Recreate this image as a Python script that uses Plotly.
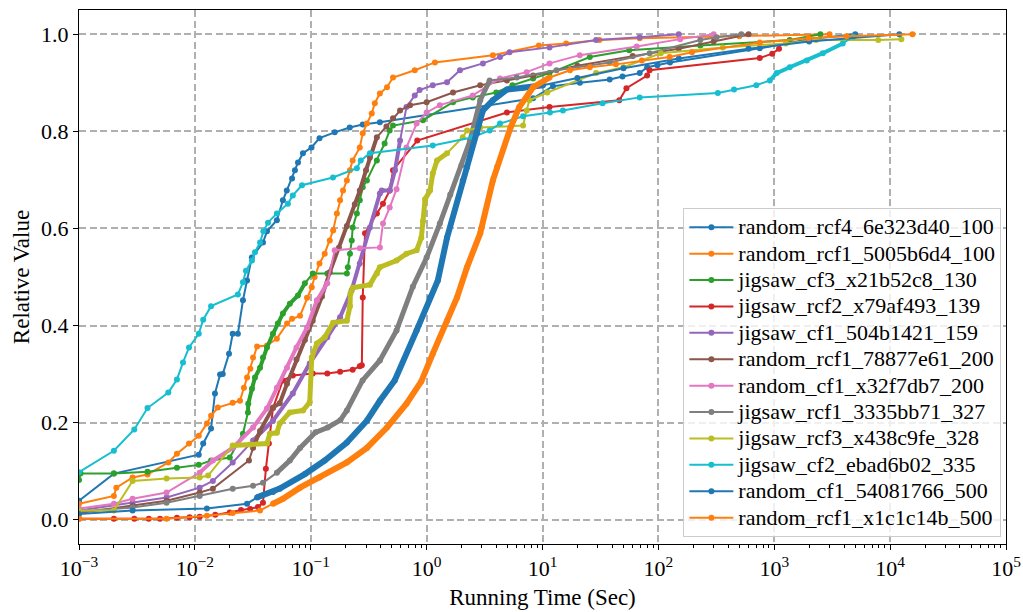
import plotly.graph_objects as go

# ---------------- data ----------------
names = [
    "random_rcf4_6e323d40_100", "random_rcf1_5005b6d4_100", "jigsaw_cf3_x21b52c8_130",
    "jigsaw_rcf2_x79af493_139", "jigsaw_cf1_504b1421_159", "random_rcf1_78877e61_200",
    "random_cf1_x32f7db7_200", "jigsaw_rcf1_3335bb71_327", "jigsaw_rcf3_x438c9fe_328",
    "jigsaw_cf2_ebad6b02_335", "random_cf1_54081766_500", "random_rcf1_x1c1c14b_500",
]
colors = ["#1f77b4", "#ff7f0e", "#2ca02c", "#d62728", "#9467bd", "#8c564b",
          "#e377c2", "#7f7f7f", "#bcbd22", "#17becf", "#1f77b4", "#ff7f0e"]

x_s1 = [0.001, 0.002, 0.0108, 0.0118, 0.0138, 0.0149, 0.0165, 0.0174, 0.0197, 0.0212, 0.0235, 0.026,
        0.0282, 0.031, 0.0387, 0.0419, 0.051, 0.0575, 0.0621, 0.069, 0.073, 0.0776, 0.0856, 0.1015,
        0.119, 0.161, 0.217, 0.281, 0.395, 8.3, 12.3, 21, 38, 49, 69, 80, 98, 126, 750, 2000, 5000]
y_s1 = [0.039, 0.095, 0.134, 0.157, 0.188, 0.26, 0.299, 0.30, 0.342, 0.383, 0.383, 0.452,
        0.493, 0.54, 0.571, 0.594, 0.617, 0.658, 0.678, 0.703, 0.72, 0.736, 0.755, 0.767,
        0.786, 0.798, 0.808, 0.814, 0.819, 0.868, 0.893, 0.90, 0.907, 0.913, 0.92, 0.932, 0.936, 0.942, 0.971, 0.99, 1.0]

x_s2 = [0.001, 0.002, 0.0021, 0.0029, 0.0039, 0.0059, 0.007, 0.0089, 0.0108, 0.0127, 0.0138, 0.0158,
        0.0212, 0.0245, 0.0265, 0.0282, 0.0301, 0.0318, 0.0344, 0.0419, 0.051, 0.0624, 0.069, 0.0808,
        0.0929, 0.102, 0.108, 0.119, 0.132, 0.146, 0.156, 0.168, 0.179, 0.19, 0.205, 0.218, 0.23,
        0.265, 0.281, 0.305, 0.336, 0.357, 0.395, 0.455, 0.513, 0.79, 1.18, 3.73, 9.3, 16, 31, 69, 500, 3000]
y_s2 = [0.033, 0.049, 0.066, 0.087, 0.093, 0.118, 0.136, 0.157, 0.173, 0.198, 0.214, 0.231,
        0.241, 0.245, 0.272, 0.293, 0.311, 0.334, 0.357, 0.359, 0.373, 0.404, 0.414, 0.42,
        0.457, 0.479, 0.5, 0.528, 0.548, 0.575, 0.596, 0.631, 0.658, 0.678, 0.699, 0.72, 0.74,
        0.767, 0.796, 0.816, 0.837, 0.858, 0.878, 0.891, 0.911, 0.926, 0.942, 0.957, 0.977, 0.981, 0.988, 0.992, 0.996, 1.0]

x_s3 = [0.001, 0.00103, 0.002, 0.0039, 0.007, 0.0108, 0.0138, 0.02, 0.026, 0.0287, 0.0289, 0.0311,
        0.033, 0.0365, 0.0387, 0.0419, 0.0472, 0.052, 0.0575, 0.066, 0.0775, 0.089, 0.104, 0.139,
        0.205, 0.209, 0.218, 0.226, 0.23, 0.25, 0.265, 0.281, 0.305, 0.372, 0.434, 0.48, 0.513,
        0.93, 1.69, 2.5, 3.99, 5.5, 8.3, 11.5, 25.6, 56, 230, 1360, 2500]
y_s3 = [0.082, 0.095, 0.095, 0.099, 0.107, 0.113, 0.122, 0.128, 0.177, 0.221, 0.239, 0.27,
        0.293, 0.313, 0.334, 0.355, 0.383, 0.404, 0.425, 0.445, 0.462, 0.487, 0.507, 0.507,
        0.507, 0.52, 0.548, 0.575, 0.602, 0.631, 0.658, 0.685, 0.699, 0.74, 0.775, 0.802, 0.812,
        0.823, 0.86, 0.87, 0.88, 0.895, 0.909, 0.92, 0.953, 0.967, 0.977, 0.988, 1.0]

x_s4 = [0.001, 0.002, 0.003, 0.004, 0.005, 0.007, 0.009, 0.011, 0.015, 0.02, 0.025, 0.03, 0.035,
        0.0387, 0.041, 0.0435, 0.0472, 0.0575, 0.07, 0.104, 0.139, 0.179, 0.23, 0.265, 0.276,
        0.281, 0.294, 0.372, 0.42, 0.48, 0.513, 0.83, 4.93, 11.5, 46, 53, 80, 84, 750, 960, 1100]
y_s4 = [0.002, 0.002, 0.002, 0.002, 0.002, 0.004, 0.005, 0.006, 0.01, 0.015, 0.02, 0.022, 0.026,
        0.035, 0.105, 0.157, 0.23, 0.287, 0.297, 0.301, 0.301, 0.305, 0.309, 0.316, 0.318,
        0.458, 0.59, 0.631, 0.651, 0.678, 0.72, 0.781, 0.839, 0.85, 0.864, 0.889, 0.915, 0.926, 0.951, 0.96, 0.97]

x_s5 = [0.001, 0.0029, 0.0057, 0.011, 0.0143, 0.0212, 0.0318, 0.0472, 0.07, 0.098, 0.139, 0.179,
        0.225, 0.265, 0.324, 0.395, 0.41, 0.48, 0.534, 0.59, 0.67, 0.79, 0.87, 1.13, 1.5, 1.94,
        3.06, 4.3, 5.2, 11.5, 29, 69, 150]
y_s5 = [0.019, 0.035, 0.046, 0.066, 0.08, 0.118, 0.163, 0.204, 0.26, 0.322, 0.376, 0.417,
        0.472, 0.528, 0.602, 0.672, 0.678, 0.678, 0.72, 0.781, 0.85, 0.874, 0.885, 0.895, 0.901, 0.926,
        0.94, 0.953, 0.963, 0.973, 0.988, 0.994, 1.0]

x_s6 = [0.001, 0.0029, 0.0057, 0.011, 0.0143, 0.0293, 0.0318, 0.0365, 0.0472, 0.054, 0.0624, 0.0753,
        0.089, 0.104, 0.125, 0.146, 0.175, 0.205, 0.24, 0.265, 0.3, 0.324, 0.372, 0.45, 0.513,
        0.59, 0.72, 1.0, 1.69, 2.9, 4.93, 8.3, 20, 60, 150, 300, 600]
y_s6 = [0.014, 0.029, 0.039, 0.056, 0.064, 0.122, 0.148, 0.183, 0.231, 0.24, 0.28, 0.33,
        0.37, 0.41, 0.46, 0.51, 0.56, 0.605, 0.65, 0.678, 0.72, 0.746, 0.788, 0.81, 0.827,
        0.843, 0.854, 0.86, 0.88, 0.895, 0.905, 0.915, 0.935, 0.955, 0.97, 0.985, 1.0]

x_s7 = [0.001, 0.002, 0.0029, 0.0057, 0.011, 0.0143, 0.0212, 0.0318, 0.0419, 0.051, 0.0624, 0.0753,
        0.093, 0.113, 0.139, 0.161, 0.265, 0.395, 0.42, 0.48, 0.55, 0.67, 0.82, 1.0, 1.3, 2.5,
        4.3, 7.3, 11.5, 21, 65, 154, 300]
y_s7 = [0.023, 0.033, 0.043, 0.056, 0.097, 0.122, 0.148, 0.19, 0.229, 0.272, 0.313, 0.355,
        0.396, 0.452, 0.487, 0.555, 0.559, 0.561, 0.61, 0.643, 0.681, 0.767, 0.816, 0.839, 0.854, 0.874,
        0.909, 0.922, 0.94, 0.957, 0.975, 0.99, 1.0]

x_s8 = [0.001, 0.0029, 0.0057, 0.011, 0.0212, 0.0318, 0.0387, 0.051, 0.066, 0.0808, 0.11, 0.14,
        0.18, 0.205, 0.28, 0.395, 0.55, 0.76, 1.0, 1.3, 1.6, 2.0, 2.36, 2.9, 3.5, 6, 13.2, 38, 84,
        230, 318, 520]
y_s8 = [0.017, 0.025, 0.035, 0.049, 0.064, 0.07, 0.076, 0.097, 0.122, 0.148, 0.18, 0.19,
        0.205, 0.225, 0.287, 0.328, 0.39, 0.48, 0.54, 0.61, 0.67, 0.73, 0.78, 0.864, 0.905, 0.911, 0.926, 0.942, 0.961,
        0.988, 0.994, 1.0]

x_s9 = [0.001, 0.002, 0.0029, 0.0057, 0.011, 0.013, 0.0212, 0.03, 0.0419, 0.0444, 0.051, 0.054,
        0.066, 0.0856, 0.098, 0.102, 0.113, 0.132, 0.156, 0.205, 0.218, 0.22, 0.23, 0.324, 0.372,
        0.395, 0.55, 0.67, 0.82, 0.9, 0.93, 0.97, 1.07, 1.13, 1.23, 1.5, 2.05, 2.23, 2.9, 6.8, 7.3,
        7.7, 11, 29, 50, 105, 360, 1260, 2300, 7900, 12500]
y_s9 = [0.019, 0.019, 0.08, 0.085, 0.087, 0.091, 0.153, 0.155, 0.157, 0.177, 0.179, 0.198,
        0.221, 0.225, 0.242, 0.334, 0.363, 0.376, 0.406, 0.41, 0.44, 0.466, 0.478, 0.484, 0.507,
        0.52, 0.534, 0.548, 0.555, 0.581, 0.615, 0.66, 0.678, 0.713, 0.74, 0.755, 0.788, 0.802, 0.808, 0.812, 0.843,
        0.864, 0.88, 0.92, 0.932, 0.961, 0.973, 0.981, 0.988, 0.988, 0.99]

x_s10 = [0.001, 0.002, 0.003, 0.0039, 0.0059, 0.007, 0.0079, 0.0089, 0.0108, 0.0118, 0.0138, 0.0235,
         0.026, 0.0276, 0.0311, 0.033, 0.0365, 0.039, 0.0428, 0.051, 0.0635, 0.07, 0.084, 0.1555,
         0.25, 0.27, 0.324, 1.13, 2.5, 3.5, 4.3, 6.8, 11.6, 15, 33, 69, 326, 450, 700, 916, 1050,
         1360, 1910, 2625, 3900, 4800]
y_s10 = [0.098, 0.142, 0.186, 0.23, 0.262, 0.289, 0.324, 0.355, 0.383, 0.412, 0.44, 0.464,
         0.489, 0.513, 0.534, 0.551, 0.571, 0.594, 0.612, 0.631, 0.651, 0.668, 0.689, 0.705,
         0.724, 0.74, 0.755, 0.771, 0.788, 0.802, 0.816, 0.831, 0.839, 0.843, 0.858, 0.87, 0.879, 0.886, 0.895, 0.905, 0.92,
         0.932, 0.946, 0.961, 0.981, 0.995]

x_s11 = [0.001, 0.0029, 0.0127, 0.0282, 0.0344, 0.0472, 0.054, 0.089, 0.132, 0.205, 0.305, 0.395,
         0.53, 0.82, 1.07, 1.25, 1.5, 2.05, 2.23, 2.72, 3.06, 3.73, 4.93, 6.77, 10.1, 20, 50, 150,
         600, 2000, 12000]
y_s11 = [0.012, 0.019, 0.023, 0.033, 0.046, 0.057, 0.064, 0.094, 0.122, 0.159, 0.204, 0.245,
         0.287, 0.39, 0.458, 0.493, 0.581, 0.699, 0.726, 0.796, 0.843, 0.864, 0.886, 0.89, 0.895, 0.91, 0.93, 0.95,
         0.97, 0.985, 1.0]

x_s12 = [0.001, 0.0057, 0.0127, 0.0212, 0.0365, 0.0472, 0.0575, 0.0808, 0.119, 0.205, 0.305, 0.455,
         0.67, 0.9, 1.13, 1.5, 1.83, 2.23, 2.9, 3.73, 4.05, 5.3, 6.3, 8.3, 11.5, 17.3, 25.6, 43,
         72, 125, 195, 750, 1980, 4200, 15600]
y_s12 = [0.002, 0.002, 0.008, 0.014, 0.019, 0.033, 0.043, 0.066, 0.087, 0.118, 0.148, 0.19,
         0.239, 0.285, 0.342, 0.41, 0.458, 0.52, 0.59, 0.699, 0.726, 0.808, 0.85, 0.891, 0.911, 0.926, 0.932, 0.938,
         0.946, 0.953, 0.963, 0.983, 0.992, 0.996, 1.0]

series_x = [x_s1, x_s2, x_s3, x_s4, x_s5, x_s6, x_s7, x_s8, x_s9, x_s10, x_s11, x_s12]
series_y = [y_s1, y_s2, y_s3, y_s4, y_s5, y_s6, y_s7, y_s8, y_s9, y_s10, y_s11, y_s12]

xtick_exp = [-3, -2, -1, 0, 1, 2, 3, 4, 5]

# ---------------- styling ----------------
# x-interval where the original curve is so dense that its markers form a thick band
dense = {2: (0.028, 0.1, 4), 4: (0.03, 0.6, 4), 5: (0.03, 0.4, 4), 6: (0.01, 0.16, 4),
         7: (0.04, 3.5, 5), 8: (0.02, 1.5, 5), 9: (900, 4500, 4),
         10: (0.03, 10.5, 6), 11: (0.04, 12, 6)}

FONT = "Liberation Serif, Times New Roman, serif"
LEGEND_TEXT_PX = 22
fig = go.Figure()
for i, (nm, c, xs, ys) in enumerate(zip(names, colors, series_x, series_y)):
    if i in dense:
        lo, hi, w = dense[i]
        sx = [a for a in xs if lo <= a <= hi]
        sy = [b for a, b in zip(xs, ys) if lo <= a <= hi]
        fig.add_trace(go.Scatter(x=sx, y=sy, mode="lines", line=dict(color=c, width=w),
                                 showlegend=False, hoverinfo="skip"))
    fig.add_trace(go.Scatter(x=xs, y=ys, mode="lines+markers",
                             name='<span style="font-size:%dpx">%s</span>' % (LEGEND_TEXT_PX, nm),
                             line=dict(color=c, width=2), marker=dict(color=c, size=6)))

minor_vals = [m * 10 ** e for e in range(-3, 5) for m in range(2, 10)]
fig.update_xaxes(
    type="log", range=[-3, 5], automargin=False,
    tickmode="array", tickvals=[10 ** e for e in xtick_exp],
    ticktext=["10<sup>%s</sup>" % (("\u2212%d" % -e) if e < 0 else "%d" % e) for e in xtick_exp],
    ticks="outside", ticklen=5, tickwidth=1, tickcolor="black",
    minor=dict(tickmode="array", tickvals=minor_vals, ticks="outside", ticklen=3,
               tickcolor="black", tickwidth=0.8, showgrid=False),
    showgrid=True, gridcolor="#b0b0b0", gridwidth=1.5, griddash="7px,3.5px",
    showline=True, linecolor="black", linewidth=1, mirror=True,
    tickfont=dict(family=FONT, size=22, color="black"),
    title=dict(text="Running Time (Sec)", font=dict(family=FONT, size=23, color="black"), standoff=8),
    zeroline=False,
)
fig.update_yaxes(
    range=[-0.05, 1.05], tickmode="linear", tick0=0, dtick=0.2, tickformat=".1f", automargin=False,
    ticks="outside", ticklen=5, tickwidth=1, tickcolor="black",
    showgrid=True, gridcolor="#b0b0b0", gridwidth=1.5, griddash="7px,3.5px",
    showline=True, linecolor="black", linewidth=1, mirror=True,
    tickfont=dict(family=FONT, size=22, color="black"),
    title=dict(text="Relative Value", font=dict(family=FONT, size=23, color="black"), standoff=5),
    zeroline=False,
)
fig.update_layout(
    width=1023, height=612,
    margin=dict(l=79, r=17, t=10, b=68),
    plot_bgcolor="white", paper_bgcolor="white",
    font=dict(family=FONT, color="black"),
    legend=dict(x=0.995, y=0.013, xanchor="right", yanchor="bottom", itemwidth=44,
                bgcolor="rgba(255,255,255,0.8)", bordercolor="#cccccc", borderwidth=1,
                font=dict(family=FONT, size=18, color="black"), tracegroupgap=0),
    showlegend=True,
)
fig.write_html("out.html")
